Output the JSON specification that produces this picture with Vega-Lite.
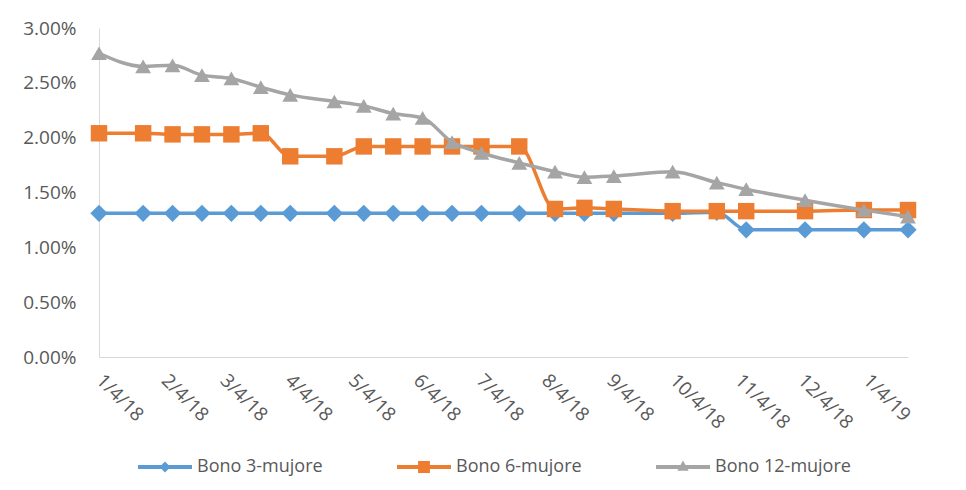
{
  "$schema": "https://vega.github.io/schema/vega-lite/v6.json",
  "width": 809,
  "height": 329,
  "autosize": {"type": "none"},
  "padding": {"left": 99, "top": 28, "right": 58, "bottom": 133},
  "background": "white",
  "config": {
    "view": {"stroke": null},
    "font": "Open Sans",
    "axis": {"labelColor": "#595959", "labelFont": "Open Sans", "domainColor": "#D9D9D9", "domainWidth": 1, "grid": false, "ticks": false}
  },
  "data": {"values": [
    {"date": "2018/01/04", "series": "Bono 3-mujore", "value": 0.0131},
    {"date": "2018/01/25", "series": "Bono 3-mujore", "value": 0.0131},
    {"date": "2018/02/08", "series": "Bono 3-mujore", "value": 0.0131},
    {"date": "2018/02/22", "series": "Bono 3-mujore", "value": 0.0131},
    {"date": "2018/03/08", "series": "Bono 3-mujore", "value": 0.0131},
    {"date": "2018/03/22", "series": "Bono 3-mujore", "value": 0.0131},
    {"date": "2018/04/05", "series": "Bono 3-mujore", "value": 0.0131},
    {"date": "2018/04/26", "series": "Bono 3-mujore", "value": 0.0131},
    {"date": "2018/05/10", "series": "Bono 3-mujore", "value": 0.0131},
    {"date": "2018/05/24", "series": "Bono 3-mujore", "value": 0.0131},
    {"date": "2018/06/07", "series": "Bono 3-mujore", "value": 0.0131},
    {"date": "2018/06/21", "series": "Bono 3-mujore", "value": 0.0131},
    {"date": "2018/07/05", "series": "Bono 3-mujore", "value": 0.0131},
    {"date": "2018/07/23", "series": "Bono 3-mujore", "value": 0.0131},
    {"date": "2018/08/09", "series": "Bono 3-mujore", "value": 0.0131},
    {"date": "2018/08/23", "series": "Bono 3-mujore", "value": 0.0131},
    {"date": "2018/09/06", "series": "Bono 3-mujore", "value": 0.0131},
    {"date": "2018/10/04", "series": "Bono 3-mujore", "value": 0.0131},
    {"date": "2018/10/25", "series": "Bono 3-mujore", "value": 0.0132},
    {"date": "2018/11/08", "series": "Bono 3-mujore", "value": 0.0116},
    {"date": "2018/12/06", "series": "Bono 3-mujore", "value": 0.0116},
    {"date": "2019/01/03", "series": "Bono 3-mujore", "value": 0.0116},
    {"date": "2019/01/24", "series": "Bono 3-mujore", "value": 0.0116},
    {"date": "2018/01/04", "series": "Bono 6-mujore", "value": 0.0204},
    {"date": "2018/01/25", "series": "Bono 6-mujore", "value": 0.0204},
    {"date": "2018/02/08", "series": "Bono 6-mujore", "value": 0.0203},
    {"date": "2018/02/22", "series": "Bono 6-mujore", "value": 0.0203},
    {"date": "2018/03/08", "series": "Bono 6-mujore", "value": 0.0203},
    {"date": "2018/03/22", "series": "Bono 6-mujore", "value": 0.0204},
    {"date": "2018/04/05", "series": "Bono 6-mujore", "value": 0.0183},
    {"date": "2018/04/26", "series": "Bono 6-mujore", "value": 0.0183},
    {"date": "2018/05/10", "series": "Bono 6-mujore", "value": 0.0192},
    {"date": "2018/05/24", "series": "Bono 6-mujore", "value": 0.0192},
    {"date": "2018/06/07", "series": "Bono 6-mujore", "value": 0.0192},
    {"date": "2018/06/21", "series": "Bono 6-mujore", "value": 0.0192},
    {"date": "2018/07/05", "series": "Bono 6-mujore", "value": 0.0192},
    {"date": "2018/07/23", "series": "Bono 6-mujore", "value": 0.0192},
    {"date": "2018/08/09", "series": "Bono 6-mujore", "value": 0.0135},
    {"date": "2018/08/23", "series": "Bono 6-mujore", "value": 0.0136},
    {"date": "2018/09/06", "series": "Bono 6-mujore", "value": 0.0135},
    {"date": "2018/10/04", "series": "Bono 6-mujore", "value": 0.0133},
    {"date": "2018/10/25", "series": "Bono 6-mujore", "value": 0.0133},
    {"date": "2018/11/08", "series": "Bono 6-mujore", "value": 0.0133},
    {"date": "2018/12/06", "series": "Bono 6-mujore", "value": 0.0133},
    {"date": "2019/01/03", "series": "Bono 6-mujore", "value": 0.0134},
    {"date": "2019/01/24", "series": "Bono 6-mujore", "value": 0.0134},
    {"date": "2018/01/04", "series": "Bono 12-mujore", "value": 0.0277},
    {"date": "2018/01/25", "series": "Bono 12-mujore", "value": 0.0265},
    {"date": "2018/02/08", "series": "Bono 12-mujore", "value": 0.0266},
    {"date": "2018/02/22", "series": "Bono 12-mujore", "value": 0.0257},
    {"date": "2018/03/08", "series": "Bono 12-mujore", "value": 0.0254},
    {"date": "2018/03/22", "series": "Bono 12-mujore", "value": 0.0246},
    {"date": "2018/04/05", "series": "Bono 12-mujore", "value": 0.0239},
    {"date": "2018/04/26", "series": "Bono 12-mujore", "value": 0.0233},
    {"date": "2018/05/10", "series": "Bono 12-mujore", "value": 0.0229},
    {"date": "2018/05/24", "series": "Bono 12-mujore", "value": 0.0222},
    {"date": "2018/06/07", "series": "Bono 12-mujore", "value": 0.0218},
    {"date": "2018/06/21", "series": "Bono 12-mujore", "value": 0.0196},
    {"date": "2018/07/05", "series": "Bono 12-mujore", "value": 0.0186},
    {"date": "2018/07/23", "series": "Bono 12-mujore", "value": 0.0177},
    {"date": "2018/08/09", "series": "Bono 12-mujore", "value": 0.0169},
    {"date": "2018/08/23", "series": "Bono 12-mujore", "value": 0.0164},
    {"date": "2018/09/06", "series": "Bono 12-mujore", "value": 0.0165},
    {"date": "2018/10/04", "series": "Bono 12-mujore", "value": 0.0169},
    {"date": "2018/10/25", "series": "Bono 12-mujore", "value": 0.0159},
    {"date": "2018/11/08", "series": "Bono 12-mujore", "value": 0.0153},
    {"date": "2018/12/06", "series": "Bono 12-mujore", "value": 0.0143},
    {"date": "2019/01/03", "series": "Bono 12-mujore", "value": 0.0134},
    {"date": "2019/01/24", "series": "Bono 12-mujore", "value": 0.0128}
  ]},
  "encoding": {
    "x": {
      "field": "date", "type": "temporal",
      "scale": {"domain": [{"year": 2018, "month": 1, "date": 4}, {"year": 2019, "month": 1, "date": 24}]},
      "axis": {
        "title": null, "format": "%-m/%-d/%y", "labelAngle": 45, "labelAlign": "left", "labelBaseline": "middle",
        "labelPadding": 20, "labelFontSize": 19, "labelOverlap": false, "labelBound": false, "labelFlush": false,
        "values": [
          {"year": 2018, "month": 1, "date": 4}, {"year": 2018, "month": 2, "date": 4}, {"year": 2018, "month": 3, "date": 4},
          {"year": 2018, "month": 4, "date": 4}, {"year": 2018, "month": 5, "date": 4}, {"year": 2018, "month": 6, "date": 4},
          {"year": 2018, "month": 7, "date": 4}, {"year": 2018, "month": 8, "date": 4}, {"year": 2018, "month": 9, "date": 4},
          {"year": 2018, "month": 10, "date": 4}, {"year": 2018, "month": 11, "date": 4}, {"year": 2018, "month": 12, "date": 4},
          {"year": 2019, "month": 1, "date": 4}
        ]
      }
    },
    "y": {
      "field": "value", "type": "quantitative",
      "scale": {"domain": [0, 0.03], "nice": false, "zero": true},
      "axis": {"title": null, "format": ".2%", "values": [0, 0.005, 0.01, 0.015, 0.02, 0.025, 0.03], "labelFontSize": 19, "labelPadding": 23}
    },
    "color": {
      "field": "series", "type": "nominal",
      "scale": {"domain": ["Bono 3-mujore", "Bono 6-mujore", "Bono 12-mujore"], "range": ["#5B9BD5", "#ED7D31", "#A5A5A5"]},
      "legend": {
        "title": null, "orient": "none", "legendX": 39, "legendY": 412, "direction": "horizontal", "columns": 3,
        "gridAlign": "all", "columnPadding": 64, "symbolSize": 2916, "labelFontSize": 18, "labelColor": "#595959",
        "labelOffset": 5, "symbolStrokeWidth": 0,
        "encode": {"symbols": {"update": {
          "shape": {"signal": "datum.value === 'Bono 3-mujore' ? 'M-1,-0.075 L1,-0.075 L1,0.075 L-1,0.075 Z M0,-0.2 L0.2,0 L0,0.2 L-0.2,0 Z' : datum.value === 'Bono 6-mujore' ? 'M-1,-0.075 L1,-0.075 L1,0.075 L-1,0.075 Z M-0.22,-0.22 L0.22,-0.22 L0.22,0.22 L-0.22,0.22 Z' : 'M-1,-0.075 L1,-0.075 L1,0.075 L-1,0.075 Z M0,-0.24 L0.21,0.14 L-0.21,0.14 Z'"},
          "strokeWidth": {"value": 0}
        }}}
      }
    }
  },
  "layer": [
    {"transform": [{"filter": "datum.series === 'Bono 3-mujore'"}], "mark": {"type": "line", "strokeWidth": 3.5, "interpolate": "monotone"}},
    {"transform": [{"filter": "datum.series === 'Bono 3-mujore'"}], "mark": {"type": "point", "shape": "diamond", "filled": true, "opacity": 1, "size": 300, "strokeWidth": 0}},
    {"transform": [{"filter": "datum.series === 'Bono 6-mujore'"}], "mark": {"type": "line", "strokeWidth": 3.5, "interpolate": "monotone"}},
    {"transform": [{"filter": "datum.series === 'Bono 6-mujore'"}], "mark": {"type": "point", "shape": "square", "filled": true, "opacity": 1, "size": 270, "strokeWidth": 0}},
    {"transform": [{"filter": "datum.series === 'Bono 12-mujore'"}], "mark": {"type": "line", "strokeWidth": 3.5, "interpolate": "monotone"}},
    {"transform": [{"filter": "datum.series === 'Bono 12-mujore'"}], "mark": {"type": "point", "shape": "triangle-up", "filled": true, "opacity": 1, "size": 250, "strokeWidth": 0}}
  ]
}
